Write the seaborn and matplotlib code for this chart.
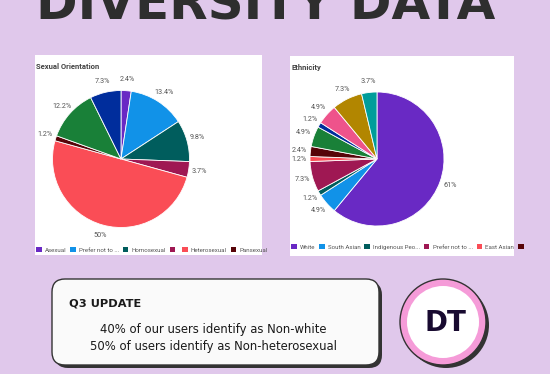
import matplotlib
matplotlib.use("Agg")
import matplotlib.pyplot as plt
from matplotlib.patches import FancyBboxPatch, Circle, Rectangle, Patch
import seaborn as sns

# sexual orientation (clockwise from 12 o'clock)
orient_labels = ["Asexual", "Prefer not to ...", "Homosexual", "", "Heterosexual",
                 "Pansexual", "Other", "Bisexual"]
orient_values = [2.4, 13.4, 9.8, 3.7, 50, 1.2, 12.2, 7.3]

# ethnicity (clockwise from 12 o'clock)
eth_labels = ["White", "South Asian", "Indigenous Peo...", "Prefer not to ...", "East Asian",
              "", "Black", "Middle Eastern", "Mixed", "Latino", "Southeast Asian"]
eth_values = [61, 4.9, 1.2, 7.3, 1.2, 2.4, 4.9, 1.2, 4.9, 7.3, 3.7]

summary_lines = ["40% of our users identify as Non-white",
                 "50% of users identify as Non-heterosexual"]

carbon = ["#6929c4", "#1192e8", "#005d5d", "#9f1853", "#fa4d56", "#570408",
          "#198038", "#002d9c", "#ee538b", "#b28600", "#009d9a"]

sns.set_theme(style="white")
plt.rcParams["font.family"] = ["Lato", "DejaVu Sans"]
palette = sns.color_palette(carbon)

W, H = 550, 374
BG = "#e0c8eb"
fig = plt.figure(figsize=(W / 100, H / 100), dpi=100, facecolor=BG)

bg = fig.add_axes([0, 0, 1, 1])
bg.set_xlim(0, W)
bg.set_ylim(H, 0)
bg.axis("off")

bg.text(W / 2 - 9, 19, "DIVERSITY DATA", ha="center", va="baseline",
        fontsize=36, fontweight="black", color="#2e2e2e", family="DejaVu Sans")

# white panels
bg.add_patch(Rectangle((35, 55), 227, 200, facecolor="white", edgecolor="none"))
bg.add_patch(Rectangle((290, 56), 224, 200, facecolor="white", edgecolor="none"))
bg.text(36, 66, "Sexual Orientation", fontsize=5.5, fontweight="bold", color="#444444",
        va="center", family="Roboto")
bg.text(291, 67, "Ethnicity", fontsize=5.5, fontweight="bold", color="#444444",
        va="center", family="Roboto")


def fmt(p):
    s = f"{p:.1f}"
    if s.endswith(".0"):
        s = s[:-2]
    return s + "%"


def draw_pie(cx, cy, r, values):
    lim = 1.35
    s = 2 * r * lim
    ax = fig.add_axes([(cx - s / 2) / W, 1 - (cy + s / 2) / H, s / W, s / H])
    wedges, _, autotexts = ax.pie(values, colors=palette[:len(values)], startangle=90,
                                  counterclock=False, autopct=fmt, pctdistance=1.16,
                                  wedgeprops=dict(edgecolor="white", linewidth=0.6),
                                  textprops=dict(fontsize=5.2, color="#555555", family="Roboto"))
    ax.set_xlim(-lim, lim)
    ax.set_ylim(-lim, lim)
    ax.set_aspect("equal")
    ax.axis("off")
    return wedges


w1 = draw_pie(121, 159, 68.5, orient_values)
w2 = draw_pie(377, 159, 67, eth_values)


def legend(labels, x, y):
    handles = [Patch(facecolor=palette[i], edgecolor="none") for i in range(len(labels))]
    fig.legend(handles, labels, loc="center left", bbox_to_anchor=(x / W, 1 - y / H),
               ncol=len(labels), frameon=False, handlelength=0.9,
               handleheight=0.9, handletextpad=0.5, columnspacing=0.65, borderpad=0,
               borderaxespad=0, labelcolor="#555555", prop=dict(family="Roboto", size=4.4))


legend(orient_labels[:6], 36, 250)
legend(eth_labels[:6], 291, 247)

# summary box
bg.add_patch(FancyBboxPatch((55, 282), 327, 86, boxstyle="round,pad=0,rounding_size=13",
                            facecolor="#333333", edgecolor="none"))
bg.add_patch(FancyBboxPatch((52, 279), 327, 86, boxstyle="round,pad=0,rounding_size=13",
                            facecolor="#fafafa", edgecolor="#333333", linewidth=1))
bg.text(69, 304, "Q3 UPDATE", fontsize=8.2, fontweight="bold", color="#1a1a1a",
        va="center", family="DejaVu Sans")
for i, line in enumerate(summary_lines):
    bg.text(213, 330 + i * 16.5, line, fontsize=8.4, color="#1a1a1a", ha="center",
            va="center", family="DejaVu Sans")

# logo
bg.add_patch(Circle((446, 325), 43, facecolor="#333333", edgecolor="none"))
bg.add_patch(Circle((443, 322), 43, facecolor="#f59bd8", edgecolor="#333333", linewidth=1))
bg.add_patch(Circle((443, 322), 36, facecolor="white", edgecolor="none"))
bg.text(445, 323, "DT", fontsize=20, fontweight="black", color="#180a30",
        ha="center", va="center", family="DejaVu Sans")

fig.savefig("out.png", dpi=100, facecolor=BG)
